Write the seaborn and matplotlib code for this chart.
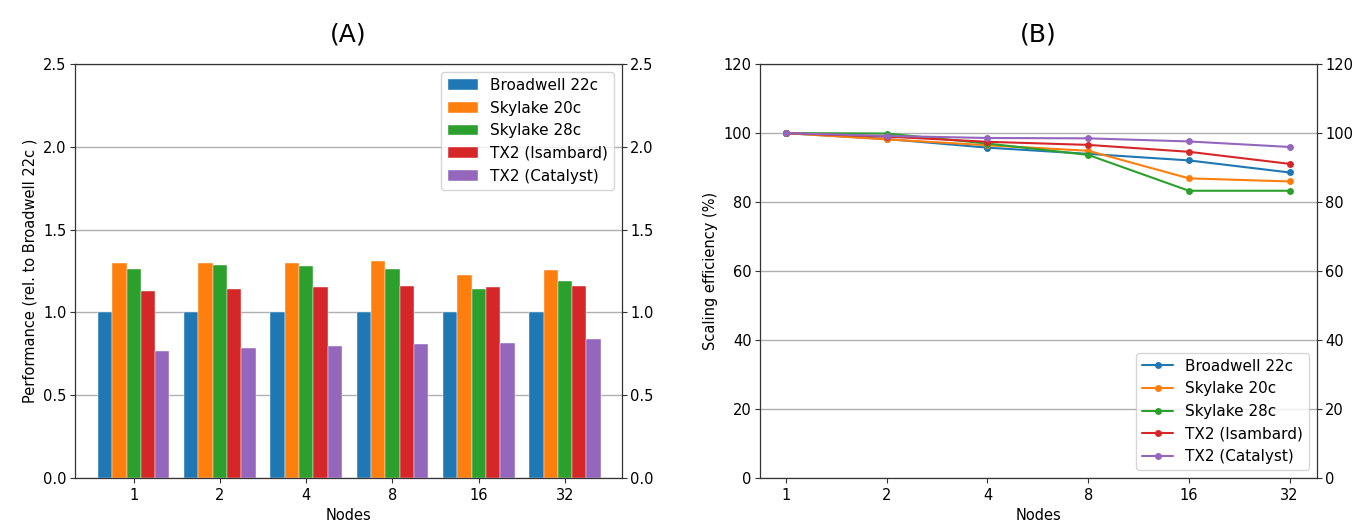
import matplotlib
matplotlib.use("Agg")
import matplotlib.pyplot as plt
import seaborn as sns
import pandas as pd
import numpy as np

nodes = ["1", "2", "4", "8", "16", "32"]
systems = ["Broadwell 22c", "Skylake 20c", "Skylake 28c", "TX2 (Isambard)", "TX2 (Catalyst)"]

# Panel A: performance relative to Broadwell 22c
perf_broadwell = [1.00, 1.00, 1.00, 1.00, 1.00, 1.00]
perf_sky20 = [1.296, 1.296, 1.296, 1.310, 1.224, 1.256]
perf_sky28 = [1.262, 1.284, 1.278, 1.262, 1.141, 1.188]
perf_isambard = [1.127, 1.141, 1.155, 1.163, 1.155, 1.163]
perf_catalyst = [0.768, 0.783, 0.795, 0.809, 0.817, 0.837]

# Panel B: scaling efficiency (%)
eff_broadwell = [100.0, 98.3, 95.8, 94.0, 92.1, 88.6]
eff_sky20 = [100.0, 98.2, 96.5, 94.9, 86.9, 86.0]
eff_sky28 = [100.0, 99.9, 97.0, 93.7, 83.3, 83.3]
eff_isambard = [100.0, 99.0, 97.5, 96.6, 94.6, 91.1]
eff_catalyst = [100.0, 99.2, 98.6, 98.5, 97.6, 96.0]

perf = [perf_broadwell, perf_sky20, perf_sky28, perf_isambard, perf_catalyst]
eff = [eff_broadwell, eff_sky20, eff_sky28, eff_isambard, eff_catalyst]

rows_a = []
rows_b = []
for s, pv, ev in zip(systems, perf, eff):
    for i, n in enumerate(nodes):
        rows_a.append({"Nodes": n, "System": s, "Value": pv[i]})
        rows_b.append({"pos": i, "System": s, "Value": ev[i]})
df_a = pd.DataFrame(rows_a)
df_b = pd.DataFrame(rows_b)

sns.set_style("white")
plt.rcParams["font.family"] = ["DejaVu Sans"]
plt.rcParams["text.color"] = "black"
plt.rcParams["axes.labelcolor"] = "black"
plt.rcParams["xtick.color"] = "#333333"
plt.rcParams["ytick.color"] = "#333333"
plt.rcParams["xtick.labelcolor"] = "black"
plt.rcParams["ytick.labelcolor"] = "black"
palette = sns.color_palette("tab10", 5)

TICK = 10.5
LAB = 10.5
LEG = 11

fig = plt.figure(figsize=(13.52, 5.22), dpi=100)
axA = fig.add_axes([0.0555, 0.0843, 0.4045, 0.7927])
axB = fig.add_axes([0.562, 0.0843, 0.412, 0.7927])

# Panel A
sns.barplot(data=df_a, x="Nodes", y="Value", hue="System", order=nodes,
            hue_order=systems, palette=palette, width=0.83, ax=axA,
            edgecolor="white", linewidth=0.3, saturation=1)
axA.set_ylim(0, 2.5)
axA.set_xlim(-0.68, 5.66)
axA.set_yticks(np.arange(0, 2.51, 0.5))
axA.yaxis.grid(True, color="#b0b0b0", linewidth=1)
axA.set_axisbelow(True)
axA.set_ylabel("Performance (rel. to Broadwell 22c )", fontsize=LAB)
axA.set_xlabel("Nodes", fontsize=LAB)
axA.set_title("(A)", fontsize=18, pad=16)
axA.tick_params(axis="y", left=True, right=True, labelright=True, labelsize=TICK, length=3.5, pad=2.5)
axA.tick_params(axis="x", bottom=True, labelsize=TICK, length=3.5)
axA.legend(loc="upper right", fontsize=LEG, frameon=True, handlelength=2.0)

# Panel B
sns.lineplot(data=df_b, x="pos", y="Value", hue="System", hue_order=systems,
             palette=palette, marker="o", markersize=5, markeredgewidth=0,
             linewidth=1.5, ax=axB)
axB.set_ylim(0, 120)
axB.set_xlim(-0.26, 5.27)
axB.set_xticks(range(len(nodes)))
axB.set_xticklabels(nodes)
axB.set_yticks(np.arange(0, 121, 20))
axB.yaxis.grid(True, color="#b0b0b0", linewidth=1)
axB.set_axisbelow(True)
axB.set_ylabel("Scaling efficiency (%)", fontsize=LAB)
axB.set_xlabel("Nodes", fontsize=LAB)
axB.set_title("(B)", fontsize=18, pad=16)
axB.tick_params(axis="y", left=True, right=True, labelright=True, labelsize=TICK, length=3.5, pad=2.5)
axB.tick_params(axis="x", bottom=True, labelsize=TICK, length=3.5)
axB.legend(loc="lower right", fontsize=LEG, frameon=True)

for ax in (axA, axB):
    for sp in ax.spines.values():
        sp.set_visible(True)
        sp.set_color("#333333")
        sp.set_linewidth(0.9)

fig.savefig("out.png", dpi=100)
